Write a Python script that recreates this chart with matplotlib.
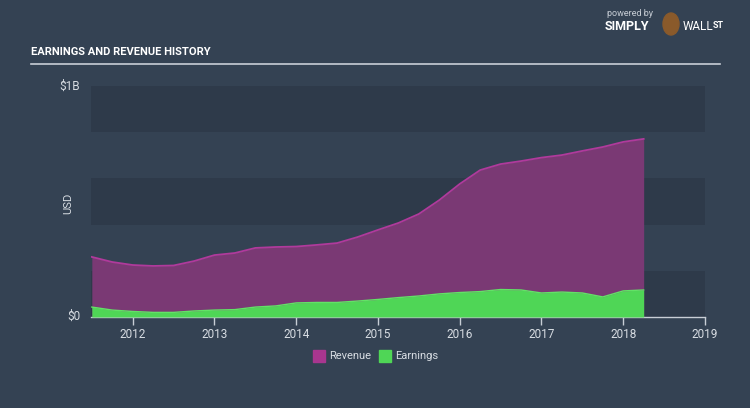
import matplotlib
matplotlib.use("Agg")
import matplotlib.pyplot as plt
from matplotlib.patches import Rectangle, Ellipse
import numpy as np

years = [2011.5, 2011.75, 2012.0, 2012.25, 2012.5, 2012.75, 2013.0, 2013.25, 2013.5, 2013.75,
         2014.0, 2014.25, 2014.5, 2014.75, 2015.0, 2015.25, 2015.5, 2015.75, 2016.0, 2016.25,
         2016.5, 2016.75, 2017.0, 2017.25, 2017.5, 2017.75, 2018.0, 2018.25]
revenue = [0.260, 0.238, 0.225, 0.221, 0.223, 0.242, 0.268, 0.277, 0.299, 0.303,
           0.305, 0.312, 0.320, 0.346, 0.377, 0.407, 0.446, 0.506, 0.576, 0.636,
           0.662, 0.675, 0.690, 0.701, 0.719, 0.736, 0.758, 0.771]
earnings = [0.043, 0.030, 0.024, 0.020, 0.020, 0.026, 0.030, 0.032, 0.043, 0.048,
            0.061, 0.063, 0.063, 0.069, 0.076, 0.084, 0.091, 0.100, 0.106, 0.110,
            0.119, 0.117, 0.104, 0.108, 0.104, 0.087, 0.113, 0.117]
xticks = [2012, 2013, 2014, 2015, 2016, 2017, 2018, 2019]
ytick_labels = ["$0", "$1B"]

plt.rcParams['font.family'] = ['Roboto', 'DejaVu Sans']

BG = "#344253"
BAND = "#2e3a4a"
TXT = "#d8dde3"

fig = plt.figure(figsize=(7.5, 4.08), dpi=100)
fig.patch.set_facecolor(BG)

ax = fig.add_axes([91/750, (408-317)/408, 614/750, 231/408])
ax.set_facecolor(BG)
ax.set_xlim(2011.49, 2019.0)
ax.set_ylim(0, 1.0)

for lo in [0.0, 0.4, 0.8]:
    ax.axhspan(lo, lo + 0.2, color=BAND, zorder=0, lw=0)

ax.fill_between(years, 0, revenue, color="#7a3974", lw=0, zorder=2)
ax.plot(years, revenue, color="#b03a9c", lw=1.3, zorder=3)
ax.fill_between(years, 0, earnings, color="#4fd656", lw=0, zorder=4)
ax.plot(years, earnings, color="#62e266", lw=1.0, zorder=5)

for s in ["top", "right", "left"]:
    ax.spines[s].set_visible(False)
ax.spines["bottom"].set_color("#c8ced6")
ax.spines["bottom"].set_linewidth(1.0)
ax.set_xticks(xticks)
ax.set_xticklabels([str(y) for y in xticks], color=TXT, fontsize=8.5)
ax.tick_params(axis="x", colors="#c8ced6", length=6, width=1, pad=2, labelcolor=TXT)
ax.set_yticks([])

fig.text(80/750, 1 - 316/408, ytick_labels[0], color=TXT, fontsize=8.5, ha="right", va="center")
fig.text(80/750, 1 - 86/408, ytick_labels[1], color=TXT, fontsize=8.5, ha="right", va="center")
fig.text(68/750, 1 - 203/408, "USD", color=TXT, fontsize=8, rotation=90, ha="center", va="center")

# title
fig.text(31/750, 1 - 52/408, "EARNINGS AND REVENUE HISTORY", color="white", fontsize=8,
         fontweight="bold", ha="left", va="center")
fig.add_artist(plt.Line2D([31/750, 720/750], [1 - 64/408, 1 - 64/408], color="#c8ced6", lw=1.2))

# logo
fig.text(607/750, 1 - 14/408, "powered by", color="#c8ced6", fontsize=6.5, ha="left", va="center")
fig.text(605/750, 1 - 27/408, "SIMPLY", color="white", fontsize=9, fontweight="bold", ha="left", va="center")
fig.patches.append(Ellipse((671/750, 1 - 24/408), 16/750, 22/408, transform=fig.transFigure,
                           color="#8a5a2b", figure=fig))
fig.text(683/750, 1 - 27/408, "WALL", color="white", fontsize=8.5, ha="left", va="center")
fig.text(713/750, 1 - 26/408, "ST", color="white", fontsize=6.5, fontweight="bold", ha="left", va="center")

# legend
ly = 1 - 356/408
fig.patches.append(Rectangle((313/750, ly - 6/408), 12/750, 12/408, transform=fig.transFigure,
                             color="#a8368f", figure=fig))
fig.text(329/750, ly, "Revenue", color=TXT, fontsize=8, ha="left", va="center")
fig.patches.append(Rectangle((379/750, ly - 6/408), 12/750, 12/408, transform=fig.transFigure,
                             color="#4fd656", figure=fig))
fig.text(395/750, ly, "Earnings", color=TXT, fontsize=8, ha="left", va="center")

fig.savefig("out.png", dpi=100, facecolor=BG)
